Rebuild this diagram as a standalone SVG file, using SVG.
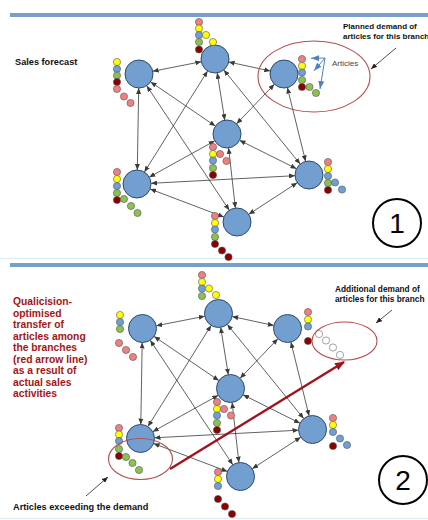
<svg xmlns="http://www.w3.org/2000/svg" width="428" height="520" viewBox="0 0 428 520">
<defs>
<style>
.nd{fill:#729fcf;stroke:#2e4a6b;stroke-width:1}
.d{stroke:#555;stroke-width:0.6}
.pk{fill:#f08080}.ye{fill:#ffff00}.bl{fill:#6f9fd3}.gr{fill:#8cc152}.dr{fill:#8b0000}.wh{fill:#fff;stroke:#666}
.e{stroke:#3a3a3a;stroke-width:0.8;fill:none;marker-start:url(#ah);marker-end:url(#ah)}
.lbl{font-family:"Liberation Sans",Arial,sans-serif;font-weight:bold;fill:#111}
.red{font-family:"Liberation Sans",Arial,sans-serif;font-weight:bold;fill:#a31515;font-size:10.3px}
.ell{fill:none;stroke:#b84c4c;stroke-width:1.1}
.ptr{stroke:#222;stroke-width:0.8;fill:none;marker-end:url(#ph)}
.ba{stroke:#4f81bd;stroke-width:1;fill:none;marker-end:url(#bh)}
</style>
<marker id="ah" viewBox="0 0 6 5" refX="6" refY="2.5" markerWidth="6" markerHeight="5" markerUnits="userSpaceOnUse" orient="auto-start-reverse"><path d="M0,0 L6,2.5 L0,5 z" fill="#3a3a3a"/></marker>
<marker id="ph" viewBox="0 0 6 5" refX="6" refY="2.5" markerWidth="6" markerHeight="5" markerUnits="userSpaceOnUse" orient="auto"><path d="M0,0 L6,2.5 L0,5 z" fill="#222"/></marker>
<marker id="bh" viewBox="0 0 8 6" refX="8" refY="3" markerWidth="8" markerHeight="6" markerUnits="userSpaceOnUse" orient="auto"><path d="M0,0 L8,3 L0,6 z" fill="#4f81bd"/></marker>
<marker id="rh" viewBox="0 0 10 8" refX="9" refY="4" markerWidth="10" markerHeight="8" markerUnits="userSpaceOnUse" orient="auto"><path d="M0,0 L10,4 L0,8 z" fill="#a0141e"/></marker>
</defs>
<rect width="428" height="520" fill="#fff"/>
<rect x="10" y="13" width="418" height="4" fill="#789ecb"/>
<rect x="10" y="263" width="418" height="4" fill="#789ecb"/>
<line x1="0" y1="258.5" x2="428" y2="258.5" stroke="#dcf0f5" stroke-width="1.5"/>
<line x1="0" y1="518.5" x2="428" y2="518.5" stroke="#dcf0f5" stroke-width="1.5"/>

<g id="connectors">
<g id="edges-1">
<line class="e" x1="152.7" y1="71.3" x2="201.3" y2="61.7"/>
<line class="e" x1="228.7" y1="62" x2="270.3" y2="71"/>
<line class="e" x1="138.7" y1="88" x2="137.3" y2="170"/>
<line class="e" x1="150.6" y1="81.9" x2="215.4" y2="126.1"/>
<line class="e" x1="146.7" y1="85.7" x2="229.3" y2="210.3"/>
<line class="e" x1="207.6" y1="70.9" x2="144.4" y2="172.1"/>
<line class="e" x1="217.2" y1="72.8" x2="224.8" y2="120.2"/>
<line class="e" x1="223.8" y1="69.9" x2="300.2" y2="164.1"/>
<line class="e" x1="274.4" y1="84.2" x2="236.6" y2="123.8"/>
<line class="e" x1="287.4" y1="87.6" x2="305.6" y2="161.4"/>
<line class="e" x1="214.8" y1="140.8" x2="149.2" y2="177.2"/>
<line class="e" x1="239.5" y1="140.3" x2="296.5" y2="168.7"/>
<line class="e" x1="228.6" y1="147.9" x2="235.4" y2="208.1"/>
<line class="e" x1="151" y1="183.3" x2="295" y2="175.7"/>
<line class="e" x1="150.1" y1="189" x2="223.9" y2="217"/>
<line class="e" x1="297.3" y1="182.7" x2="248.7" y2="214.3"/>
</g>
<g id="edges-2" transform="translate(3.5,254.5)">
<line class="e" x1="152.7" y1="71.3" x2="201.3" y2="61.7"/>
<line class="e" x1="228.7" y1="62" x2="270.3" y2="71"/>
<line class="e" x1="138.7" y1="88" x2="137.3" y2="170"/>
<line class="e" x1="150.6" y1="81.9" x2="215.4" y2="126.1"/>
<line class="e" x1="146.7" y1="85.7" x2="229.3" y2="210.3"/>
<line class="e" x1="207.6" y1="70.9" x2="144.4" y2="172.1"/>
<line class="e" x1="217.2" y1="72.8" x2="224.8" y2="120.2"/>
<line class="e" x1="223.8" y1="69.9" x2="300.2" y2="164.1"/>
<line class="e" x1="274.4" y1="84.2" x2="236.6" y2="123.8"/>
<line class="e" x1="287.4" y1="87.6" x2="305.6" y2="161.4"/>
<line class="e" x1="214.8" y1="140.8" x2="149.2" y2="177.2"/>
<line class="e" x1="239.5" y1="140.3" x2="296.5" y2="168.7"/>
<line class="e" x1="228.6" y1="147.9" x2="235.4" y2="208.1"/>
<line class="e" x1="151" y1="183.3" x2="295" y2="175.7"/>
<line class="e" x1="150.1" y1="189" x2="223.9" y2="217"/>
<line class="e" x1="297.3" y1="182.7" x2="248.7" y2="214.3"/>
</g>
<line class="ptr" x1="396" y1="48" x2="371" y2="69"/>
<line class="ptr" x1="392" y1="310" x2="376" y2="323"/>
<line class="ptr" x1="86" y1="496" x2="108" y2="477"/>
<line class="ba" x1="325" y1="58" x2="311" y2="58.3"/>
<line class="ba" x1="325" y1="58" x2="314" y2="70.7"/>
<line class="ba" x1="325" y1="58" x2="320" y2="89"/>
</g>

<g id="N1"><circle class="nd" cx="139" cy="74" r="14"/>
<circle class="d ye" cx="117" cy="62" r="3.6"/><circle class="d bl" cx="117" cy="69" r="3.6"/><circle class="d gr" cx="117" cy="75.5" r="3.6"/><circle class="d dr" cx="117" cy="82" r="3.6"/><circle class="d pk" cx="117" cy="89" r="3.6"/><circle class="d pk" cx="124" cy="96.5" r="3.6"/><circle class="d pk" cx="130.5" cy="103" r="3.6"/></g>
<g id="N2"><circle class="nd" cx="215" cy="59" r="14"/>
<circle class="d pk" cx="199" cy="22" r="3.6"/><circle class="d ye" cx="199" cy="28.5" r="3.6"/><circle class="d bl" cx="199" cy="35" r="3.6"/><circle class="d gr" cx="199" cy="42" r="3.6"/><circle class="d dr" cx="199" cy="49.5" r="3.6"/><circle class="d ye" cx="206" cy="35" r="3.6"/><circle class="d ye" cx="213" cy="42" r="3.6"/></g>
<g id="N3"><circle class="nd" cx="284" cy="74" r="14"/>
<circle class="d pk" cx="302" cy="59" r="3.6"/><circle class="d ye" cx="302" cy="66" r="3.6"/><circle class="d bl" cx="302" cy="72.5" r="3.6"/><circle class="d gr" cx="302" cy="80" r="3.6"/><circle class="d dr" cx="302" cy="87" r="3.6"/><circle class="d gr" cx="309.5" cy="87" r="3.6"/><circle class="d gr" cx="316" cy="93" r="3.6"/></g>
<g id="N4"><circle class="nd" cx="227" cy="134" r="14"/>
<circle class="d pk" cx="213" cy="147" r="3.6"/><circle class="d ye" cx="213" cy="154" r="3.6"/><circle class="d bl" cx="213" cy="160.5" r="3.6"/><circle class="d gr" cx="213" cy="168" r="3.6"/><circle class="d dr" cx="213" cy="175" r="3.6"/><circle class="d pk" cx="220" cy="154" r="3.6"/><circle class="d pk" cx="226.5" cy="161" r="3.6"/></g>
<g id="N5"><circle class="nd" cx="137" cy="184" r="14"/>
<circle class="d pk" cx="117" cy="172" r="3.6"/><circle class="d ye" cx="117" cy="179" r="3.6"/><circle class="d bl" cx="117" cy="186" r="3.6"/><circle class="d gr" cx="117" cy="193" r="3.6"/><circle class="d dr" cx="117" cy="200" r="3.6"/><circle class="d gr" cx="124" cy="199" r="3.6"/><circle class="d gr" cx="131" cy="206" r="3.6"/><circle class="d gr" cx="137.5" cy="213" r="3.6"/></g>
<g id="N6"><circle class="nd" cx="309" cy="175" r="14"/>
<circle class="d pk" cx="328" cy="162" r="3.6"/><circle class="d ye" cx="328" cy="169" r="3.6"/><circle class="d bl" cx="328" cy="176" r="3.6"/><circle class="d gr" cx="328" cy="183" r="3.6"/><circle class="d dr" cx="328" cy="190" r="3.6"/><circle class="d bl" cx="335" cy="182.5" r="3.6"/><circle class="d bl" cx="342" cy="189.5" r="3.6"/></g>
<g id="N7"><circle class="nd" cx="237" cy="222" r="14"/>
<circle class="d pk" cx="215" cy="216" r="3.6"/><circle class="d ye" cx="215" cy="223" r="3.6"/><circle class="d bl" cx="215" cy="229.5" r="3.6"/><circle class="d gr" cx="215" cy="237" r="3.6"/><circle class="d dr" cx="215" cy="244" r="3.6"/><circle class="d dr" cx="222" cy="250.5" r="3.6"/><circle class="d dr" cx="228.5" cy="257" r="3.6"/></g>

<g id="M1"><circle class="nd" cx="142.5" cy="328.5" r="14"/>
<circle class="d ye" cx="120" cy="315" r="3.6"/><circle class="d bl" cx="120" cy="322" r="3.6"/><circle class="d gr" cx="120" cy="329" r="3.6"/><circle class="d pk" cx="119" cy="343" r="3.6"/><circle class="d pk" cx="126" cy="350" r="3.6"/><circle class="d pk" cx="133" cy="357" r="3.6"/></g>
<g id="M2"><circle class="nd" cx="218.5" cy="313.5" r="14"/>
<circle class="d pk" cx="202" cy="275" r="3.6"/><circle class="d ye" cx="202" cy="282" r="3.6"/><circle class="d bl" cx="202" cy="288.5" r="3.6"/><circle class="d gr" cx="202" cy="296" r="3.6"/><circle class="d ye" cx="209" cy="288.5" r="3.6"/><circle class="d ye" cx="216" cy="295" r="3.6"/></g>
<g id="M3"><circle class="nd" cx="287.5" cy="328.5" r="14"/>
<circle class="d pk" cx="308" cy="312" r="3.6"/><circle class="d ye" cx="308" cy="319.5" r="3.6"/><circle class="d bl" cx="308" cy="326.5" r="3.6"/><circle class="d dr" cx="308" cy="341" r="3.6"/><circle class="d wh" cx="319" cy="334" r="3.6"/><circle class="d wh" cx="326" cy="340.5" r="3.6"/><circle class="d wh" cx="333" cy="347.5" r="3.6"/><circle class="d wh" cx="340" cy="355" r="3.6"/></g>
<g id="M4"><circle class="nd" cx="230.5" cy="388.5" r="14"/>
<circle class="d pk" cx="217" cy="402" r="3.6"/><circle class="d ye" cx="217" cy="409" r="3.6"/><circle class="d bl" cx="217" cy="415.5" r="3.6"/><circle class="d gr" cx="217" cy="423" r="3.6"/><circle class="d dr" cx="217" cy="430" r="3.6"/><circle class="d pk" cx="224" cy="409" r="3.6"/><circle class="d pk" cx="231" cy="415.5" r="3.6"/></g>
<g id="M5"><circle class="nd" cx="140.5" cy="438.5" r="14"/>
<circle class="d pk" cx="119" cy="428" r="3.6"/><circle class="d ye" cx="119" cy="434.5" r="3.6"/><circle class="d bl" cx="119" cy="441" r="3.6"/><circle class="d gr" cx="119" cy="449" r="3.6"/><circle class="d dr" cx="119" cy="456" r="3.6"/><circle class="d gr" cx="126" cy="457" r="3.6"/><circle class="d gr" cx="132.5" cy="463" r="3.6"/><circle class="d gr" cx="139" cy="470" r="3.6"/></g>
<g id="M6"><circle class="nd" cx="312.5" cy="429.5" r="14"/>
<circle class="d pk" cx="333" cy="418" r="3.6"/><circle class="d ye" cx="333" cy="425" r="3.6"/><circle class="d bl" cx="333" cy="432" r="3.6"/><circle class="d dr" cx="333" cy="446" r="3.6"/><circle class="d bl" cx="340" cy="438.5" r="3.6"/><circle class="d bl" cx="347" cy="445" r="3.6"/></g>
<g id="M7"><circle class="nd" cx="240.5" cy="476.5" r="14"/>
<circle class="d pk" cx="218" cy="472" r="3.6"/><circle class="d ye" cx="218" cy="479" r="3.6"/><circle class="d bl" cx="218" cy="486" r="3.6"/><circle class="d dr" cx="218" cy="499" r="3.6"/><circle class="d dr" cx="225" cy="506.5" r="3.6"/><circle class="d dr" cx="232" cy="514" r="3.6"/></g>

<ellipse class="ell" cx="314" cy="76.5" rx="56" ry="35.5"/>
<ellipse class="ell" cx="344.5" cy="341" rx="32.5" ry="19"/>
<ellipse class="ell" cx="140.5" cy="459" rx="32" ry="20.5"/>
<line x1="170" y1="469" x2="344" y2="362" stroke="#a0141e" stroke-width="2.5" marker-end="url(#rh)"/>

<text class="lbl" x="15" y="65" font-size="9.2">Sales forecast</text>
<text class="lbl" x="343" y="29" font-size="8">Planned demand of</text>
<text class="lbl" x="343" y="39" font-size="8">articles for this branch</text>
<text x="332" y="66" font-family="Liberation Sans, Arial, sans-serif" font-size="8" fill="#444">Articles</text>
<text class="lbl" x="335" y="292" font-size="8.3">Additional demand of</text>
<text class="lbl" x="335" y="302" font-size="8.3">articles for this branch</text>
<text class="lbl" x="13" y="510" font-size="9.2">Articles exceeding the demand</text>
<text class="red" x="13" y="305">Qualicision-</text>
<text class="red" x="13" y="316.5">optimised</text>
<text class="red" x="13" y="328">transfer of</text>
<text class="red" x="13" y="339.5">articles among</text>
<text class="red" x="13" y="351">the branches</text>
<text class="red" x="13" y="362.5">(red arrow line)</text>
<text class="red" x="13" y="374">as a result of</text>
<text class="red" x="13" y="385.5">actual sales</text>
<text class="red" x="13" y="397">activities</text>

<circle cx="397" cy="223" r="24" fill="none" stroke="#000" stroke-width="2"/>
<text x="397" y="233" text-anchor="middle" font-family="Liberation Sans, Arial, sans-serif" font-size="28" fill="#000">1</text>
<circle cx="403" cy="480" r="24" fill="none" stroke="#000" stroke-width="2"/>
<text x="403" y="490" text-anchor="middle" font-family="Liberation Sans, Arial, sans-serif" font-size="28" fill="#000">2</text>
</svg>
